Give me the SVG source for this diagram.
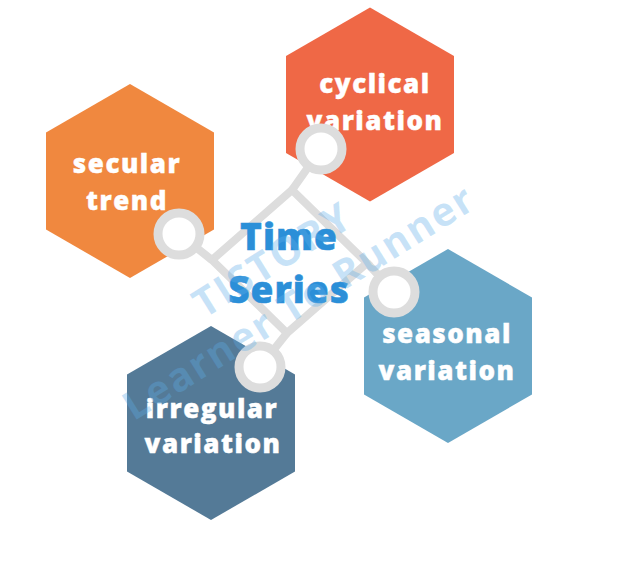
<svg xmlns="http://www.w3.org/2000/svg" width="637" height="568" viewBox="0 0 637 568">
<style>
.lbl{font-family:"Open Sans","Liberation Sans",sans-serif;font-weight:800;font-size:26px;fill:#ffffff;stroke:#ffffff;stroke-width:0.4px;text-anchor:middle;letter-spacing:1.5px}
.ctr{font-family:"Open Sans","Liberation Sans",sans-serif;font-weight:800;font-size:37px;fill:#2B8FD8;stroke:#2B8FD8;stroke-width:0.5px;text-anchor:middle;letter-spacing:1px}
.wm{font-family:"Open Sans","Liberation Sans",sans-serif;font-weight:700;font-size:40px;fill:#5DADE8;fill-opacity:0.34;text-anchor:middle;letter-spacing:2px}
.bar{fill:none;stroke:#DDDDDD;stroke-width:8}
.knob{fill:#ffffff;stroke:#DDDDDD;stroke-width:9}
</style>
<rect width="637" height="568" fill="#ffffff"/>
<g id="secular-trend">
<polygon points="130,84 214,132.5 214,229.5 130,278 46,229.5 46,132.5" fill="#F0883F"/>
<text class="lbl" x="127" y="173">secular</text>
<text class="lbl" x="127" y="210">trend</text>
</g>
<g id="cyclical-variation">
<polygon points="370,7.5 454,56 454,153 370,201.5 286,153 286,56" fill="#EF6846"/>
<text class="lbl" x="375" y="93">cyclical</text>
<text class="lbl" x="375" y="130">variation</text>
</g>
<g id="irregular-variation">
<polygon points="211,326 295,374.5 295,471.5 211,520 127,471.5 127,374.5" fill="#547A97"/>
<text class="lbl" x="212" y="418">irregular</text>
<text class="lbl" x="213" y="453">variation</text>
</g>
<g id="seasonal-variation">
<polygon points="448,249 532,297.5 532,394.5 448,443 364,394.5 364,297.5" fill="#6AA7C7"/>
<text class="lbl" x="447" y="343">seasonal</text>
<text class="lbl" x="447" y="380">variation</text>
</g>
<g id="connectors">
<path class="bar" d="M292,190 L212,260 L287,333 L367,263 Z"/>
<path class="bar" d="M292,190 L321,149 M212,260 L179,234 M287,333 L260,367 M367,263 L394,292"/>
<circle class="knob" cx="321" cy="149" r="21"/>
<circle class="knob" cx="179" cy="234" r="21"/>
<circle class="knob" cx="260" cy="367" r="21"/>
<circle class="knob" cx="394" cy="292" r="21"/>
</g>
<g id="time-series">
<text class="ctr" x="289" y="250">Time</text>
<text class="ctr" x="289" y="303">Series</text>
</g>
<g id="watermark" transform="translate(285,280) rotate(-32)">
<text class="wm" x="0" y="-10">TISTORY</text>
<text class="wm" x="0" y="40">Learner To Runner</text>
</g>
</svg>
